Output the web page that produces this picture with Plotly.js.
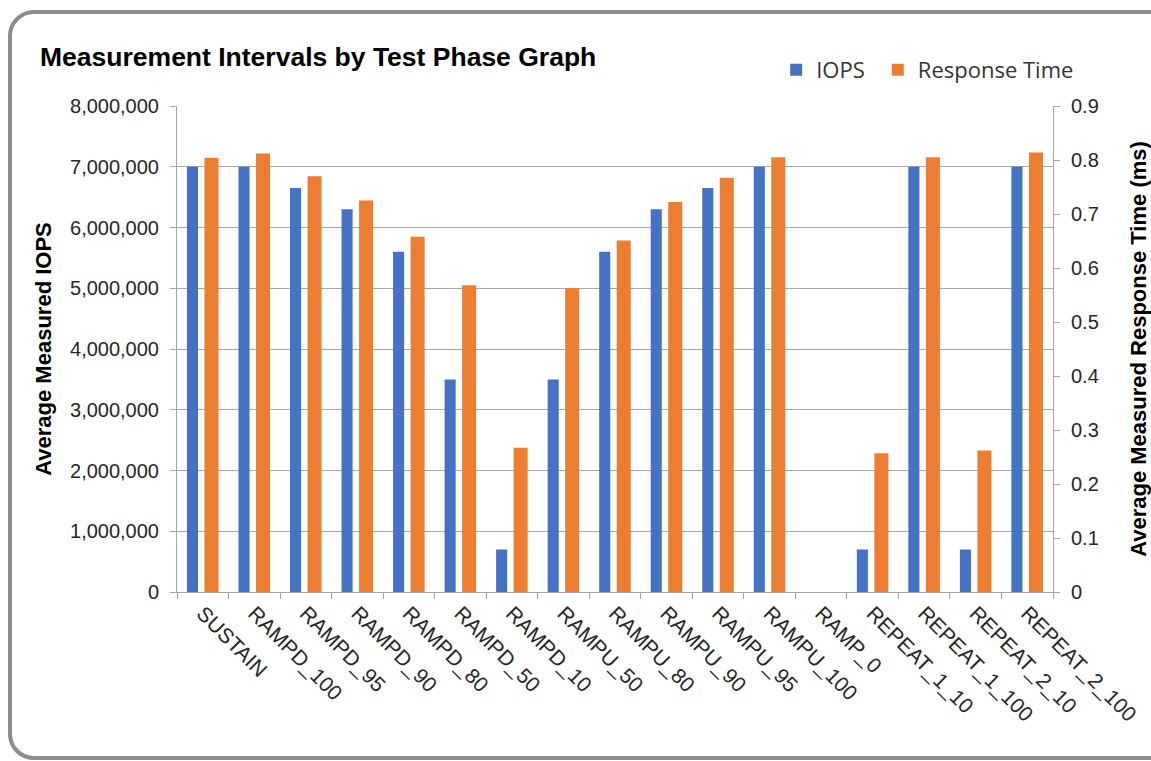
<!DOCTYPE html>
<html>
<head>
<meta charset="utf-8">
<script src="https://cdn.plot.ly/plotly-3.0.1.min.js"></script>
<style>
  html, body { margin: 0; padding: 0; background: #ffffff; overflow: hidden; }
  #card { position: absolute; left: 8px; top: 10px; width: 1160px; height: 742px;
          border: 4px solid #8c8c8c; border-radius: 26px; background: #fff; }
  #chart { position: absolute; left: 0; top: 0; width: 1151px; height: 761px; }
</style>
</head>
<body>
<div id="card"></div>
<div id="chart"></div>
<script>
const categories = ["SUSTAIN", "RAMPD_100", "RAMPD_95", "RAMPD_90", "RAMPD_80", "RAMPD_50", "RAMPD_10",
  "RAMPU_50", "RAMPU_80", "RAMPU_90", "RAMPU_95", "RAMPU_100", "RAMP_0",
  "REPEAT_1_10", "REPEAT_1_100", "REPEAT_2_10", "REPEAT_2_100"];
const iops = [7000000, 7000000, 6650000, 6300000, 5600000, 3500000, 700000,
  3500000, 5600000, 6300000, 6650000, 7000000, 0,
  700000, 7000000, 700000, 7000000];
const responseTime = [0.804, 0.812, 0.770, 0.725, 0.658, 0.568, 0.267,
  0.563, 0.651, 0.722, 0.767, 0.805, 0,
  0.257, 0.805, 0.262, 0.814];

const tickFont = {family: "Liberation Sans, Arial, sans-serif", size: 20, color: "#262626"};
const gridColor = "#a6a6a6";
const legendFont = {family: "Open Sans, Noto Sans, sans-serif", size: 22, color: "#333"};

const traces = [
  {type: "bar", name: "IOPS", x: categories, y: iops, yaxis: "y", legend: "legend",
   marker: {color: "#4472c4"}, width: 0.215, offset: -0.307, hoverinfo: "x+y"},
  {type: "bar", name: "Response Time", x: categories, y: responseTime, yaxis: "y2", legend: "legend2",
   marker: {color: "#ed7d31"}, width: 0.272, offset: 0.033, hoverinfo: "x+y"}
];

const layout = {
  width: 1151, height: 761,
  paper_bgcolor: "rgba(0,0,0,0)", plot_bgcolor: "rgba(0,0,0,0)",
  margin: {l: 177, r: 98, t: 106, b: 169, pad: 0},
  barmode: "overlay",
  showlegend: true,
  title: {text: "<b>Measurement Intervals by Test Phase Graph</b>",
          font: {family: "Liberation Sans, Arial, sans-serif", size: 26.5, color: "#000"},
          x: 0.0348, xref: "container", xanchor: "left", y: 0.925, yref: "container", yanchor: "middle"},
  legend: {orientation: "h", x: 0.684, xanchor: "left", y: 1.074, yanchor: "middle",
           font: legendFont, itemwidth: 30, bgcolor: "rgba(0,0,0,0)"},
  legend2: {orientation: "h", x: 0.800, xanchor: "left", y: 1.074, yanchor: "middle",
           font: legendFont, itemwidth: 30, bgcolor: "rgba(0,0,0,0)"},
  xaxis: {type: "category", range: [-0.5, 16.5], tickangle: 45,
          tickfont: Object.assign({}, tickFont, {size: 21}),
          showline: true, linecolor: gridColor, linewidth: 1,
          ticks: "outside", tickson: "boundaries", ticklen: 6, tickcolor: gridColor,
          showgrid: false, zeroline: false, fixedrange: true},
  yaxis: {range: [0, 8000000], dtick: 1000000, tickformat: ",d",
          tickfont: tickFont, showline: true, linecolor: gridColor, linewidth: 1,
          ticks: "outside", ticklen: 6, tickcolor: gridColor, ticklabelstandoff: 7,
          showgrid: true, gridcolor: gridColor, gridwidth: 1, zeroline: false,
          title: {text: "<b>Average Measured IOPS</b>", standoff: 12,
                  font: {family: "Liberation Sans, Arial, sans-serif", size: 22, color: "#000"}},
          fixedrange: true},
  yaxis2: {range: [0, 0.9], dtick: 0.1, overlaying: "y", side: "right",
           tickfont: tickFont, showline: true, linecolor: gridColor, linewidth: 1,
           ticks: "outside", ticklen: 6, tickcolor: gridColor, ticklabelstandoff: 7,
           showgrid: false, zeroline: false,
           title: {text: "<b>Average Measured Response Time (ms)</b>", standoff: 40,
                   font: {family: "Liberation Sans, Arial, sans-serif", size: 22, color: "#000"}},
           fixedrange: true}
};

Plotly.newPlot("chart", traces, layout, {displayModeBar: false, staticPlot: true});
</script>
</body>
</html>
